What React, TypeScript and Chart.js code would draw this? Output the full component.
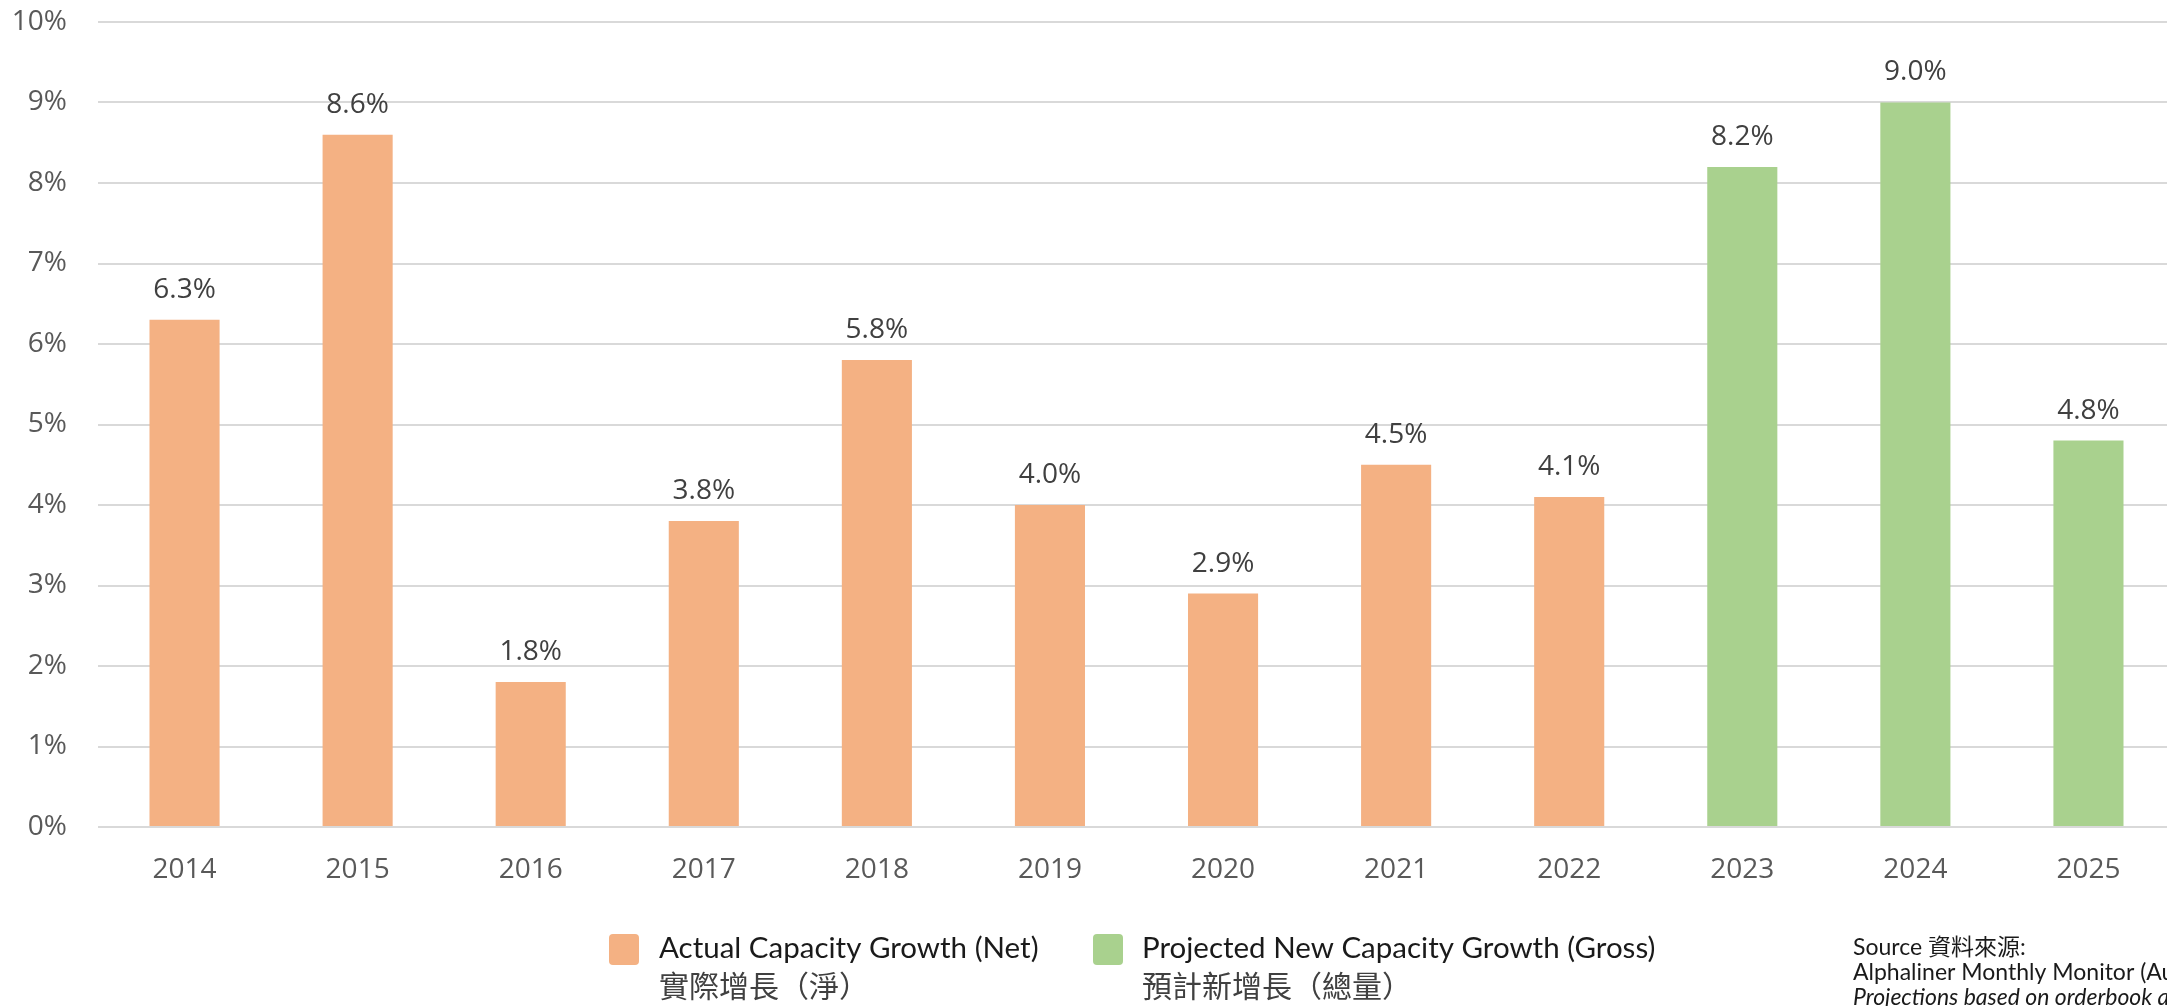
import React, { useEffect, useRef } from "react";
import { Chart, registerables } from "chart.js";

Chart.register(...registerables);

const categories = ["2014", "2015", "2016", "2017", "2018", "2019", "2020", "2021", "2022", "2023", "2024", "2025"];
const actualGrowth = [6.3, 8.6, 1.8, 3.8, 5.8, 4.0, 2.9, 4.5, 4.1, null, null, null];
const projectedGrowth = [null, null, null, null, null, null, null, null, null, 8.2, 9.0, 4.8];
const seriesNames = ["Actual Capacity Growth (Net)", "Projected New Capacity Growth (Gross)"];
const seriesNamesZh = ["實際增長（淨）", "預計新增長（總量）"];
const seriesColors = ["#F4B183", "#A9D18E"];
const yMax = 10;
const yStep = 1;
const sourceLines = [
  "Source 資料來源:",
  "Alphaliner Monthly Monitor (August 2023)",
  "Projections based on orderbook as of end-July 2023",
];

const TICK_FONT = "'Open Sans', 'Noto Sans', sans-serif";
const LEGEND_FONT = "Lato, 'Noto Sans CJK TC', sans-serif";

const dataLabelPlugin = {
  id: "dataLabels",
  afterDatasetsDraw(chart: any) {
    const ctx = chart.ctx;
    ctx.save();
    ctx.font = `28px ${TICK_FONT}`;
    ctx.fillStyle = "#404040";
    ctx.textAlign = "center";
    ctx.textBaseline = "middle";
    chart.data.datasets.forEach((ds: any, di: number) => {
      const meta = chart.getDatasetMeta(di);
      meta.data.forEach((bar: any, i: number) => {
        const v = ds.data[i];
        if (v === null || v === undefined) return;
        ctx.fillText(`${Number(v).toFixed(1)}%`, bar.x, bar.y - 30);
      });
    });
    ctx.restore();
  },
};

const legendPlugin = {
  id: "customLegend",
  afterDraw(chart: any) {
    const ctx = chart.ctx;
    ctx.save();
    const items = [
      { boxX: 609, textX: 659 },
      { boxX: 1093, textX: 1142 },
    ];
    chart.data.datasets.forEach((ds: any, i: number) => {
      const it = items[i];
      ctx.fillStyle = ds.backgroundColor;
      ctx.beginPath();
      (ctx as any).roundRect(it.boxX, 934, 30, 31, 4);
      ctx.fill();
      ctx.fillStyle = "#1a1a1a";
      ctx.textAlign = "left";
      ctx.textBaseline = "alphabetic";
      ctx.font = `29.5px ${LEGEND_FONT}`;
      ctx.fillText(ds.label, it.textX, 958);
      ctx.fillStyle = "#404040";
      ctx.font = `30px 'Noto Sans CJK TC', sans-serif`;
      ctx.fillText(seriesNamesZh[i], it.textX, 997);
    });
    // source
    ctx.fillStyle = "#1a1a1a";
    ctx.font = `23px ${LEGEND_FONT}`;
    ctx.fillText(sourceLines[0], 1853, 955);
    ctx.fillText(sourceLines[1], 1853, 980);
    ctx.font = `italic 23px ${LEGEND_FONT}`;
    ctx.fillText(sourceLines[2], 1853, 1005);
    ctx.restore();
  },
};

export default function App() {
  const ref = useRef<HTMLCanvasElement>(null);
  useEffect(() => {
    if (!ref.current) return;
    const chart = new Chart(ref.current, {
      type: "bar",
      data: {
        labels: categories,
        datasets: [
          { label: seriesNames[0], data: actualGrowth as any, backgroundColor: seriesColors[0], barPercentage: 0.405, categoryPercentage: 1 },
          { label: seriesNames[1], data: projectedGrowth as any, backgroundColor: seriesColors[1], barPercentage: 0.405, categoryPercentage: 1 },
        ],
      },
      options: {
        responsive: false,
        animation: false,
        devicePixelRatio: 1,
        layout: { padding: { top: 22, right: 25, left: 0, bottom: 0 } },
        plugins: { legend: { display: false }, tooltip: { enabled: false } },
        scales: {
          x: {
            stacked: true,
            grid: { display: false },
            border: { display: false },
            ticks: { font: { family: TICK_FONT, size: 28 }, color: "#595959", padding: 18 },
            afterFit: (s: any) => { s.height = 179; },
          },
          y: {
            min: 0,
            max: yMax,
            ticks: {
              stepSize: yStep,
              font: { family: TICK_FONT, size: 28 },
              color: "#595959",
              padding: 0,
              callback: (v: any) => `${v}%`,
            },
            grid: { color: "#d9d9d9", lineWidth: 2, drawTicks: true, tickLength: 31, tickColor: "rgba(0,0,0,0)" },
            border: { display: false },
            afterFit: (s: any) => { s.width = 98; },
          },
        },
      },
      plugins: [dataLabelPlugin, legendPlugin],
    });
    return () => chart.destroy();
  }, []);
  return (
    <div style={{ position: "fixed", left: 0, top: 0, width: 2167, height: 1006, overflow: "hidden", background: "#fff" }}>
      <canvas ref={ref} width={2200} height={1006} style={{ display: "block" }} />
    </div>
  );
}
